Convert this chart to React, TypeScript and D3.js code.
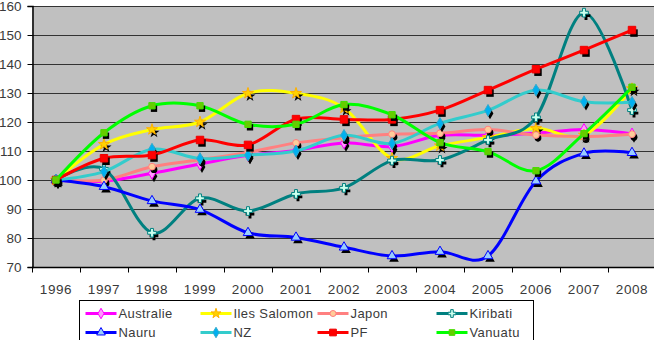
import React, { useRef, useEffect } from 'react';
import * as d3 from 'd3';

// Index values (1996 = 100) per territory
const years = ['1996', '1997', '1998', '1999', '2000', '2001', '2002', '2003', '2004', '2005', '2006', '2007', '2008'];

const australie = [100, 99.6, 102.3, 105.5, 108.5, 110.2, 112.8, 111.5, 115.4, 115.4, 116.1, 117.4, 115.9];
const ilesSalomon = [100, 112.3, 117.4, 120, 129.9, 129.9, 124.8, 107.5, 111.8, 114.7, 117.8, 115.5, 131.5];
const japon = [100, 100, 104.6, 107, 109.5, 112.8, 114.6, 115.8, 116.1, 117.4, 115.5, 115, 115.8];
const kiribati = [100, 103.8, 81.8, 93.7, 89.3, 95.2, 97.3, 106.7, 106.9, 113.8, 121.6, 157.7, 124.1];
const nauru = [100, 97.7, 92.8, 89.8, 81.8, 80.2, 76.8, 73.8, 75.3, 73.8, 99.6, 109.2, 109.4];
const nz = [100, 102.9, 110.6, 107.4, 108.6, 110, 115.4, 112.6, 119.5, 124, 131, 127, 126.8];
const pf = [100, 107.5, 108.6, 113.8, 112.1, 121, 120.9, 120.9, 124.1, 131, 138.2, 144.8, 151.7];
const vanuatu = [100, 116.3, 125.6, 125.6, 119.2, 119.2, 126, 122.5, 112.9, 109.8, 103.2, 116, 132];

const yTicks = [70, 80, 90, 100, 110, 120, 130, 140, 150, 160];

type Series = {
  name: string;
  values: number[];
  line: string;
  fill: string;
  stroke: string;
  symbol: d3.SymbolType;
  size: number;
};

const series: Series[] = [
  { name: 'Australie', values: australie, line: '#ff00ff', fill: '#ff99ff', stroke: '#ff00ff', symbol: d3.symbolDiamond, size: 40 },
  { name: 'Iles Salomon', values: ilesSalomon, line: '#ffff00', fill: '#ffd200', stroke: '#ffb000', symbol: d3.symbolStar, size: 38 },
  { name: 'Japon', values: japon, line: '#ff8080', fill: '#ffcc99', stroke: '#ff8080', symbol: d3.symbolCircle, size: 36 },
  { name: 'Kiribati', values: kiribati, line: '#008080', fill: '#ccffee', stroke: '#008080', symbol: d3.symbolCross, size: 42 },
  { name: 'Nauru', values: nauru, line: '#0000ff', fill: '#99ccff', stroke: '#0000ff', symbol: d3.symbolTriangle, size: 40 },
  { name: 'NZ', values: nz, line: '#33cccc', fill: '#00b0f0', stroke: '#33aacc', symbol: d3.symbolDiamond, size: 40 },
  { name: 'PF', values: pf, line: '#ff0000', fill: '#ff0000', stroke: '#ee0000', symbol: d3.symbolSquare, size: 56 },
  { name: 'Vanuatu', values: vanuatu, line: '#00ff00', fill: '#66cc00', stroke: '#44dd00', symbol: d3.symbolSquare, size: 40 },
];

const W = 654;
const H = 340;
const FONT = "Arial, 'Liberation Sans', sans-serif";
const TEXT = '#3a3a3a';

export default function App() {
  const svgRef = useRef<SVGSVGElement>(null);

  useEffect(() => {
    if (!svgRef.current) return;
    const svg = d3.select(svgRef.current);
    svg.selectAll('*').remove();

    const plot = { left: 32, right: 656, top: 6, bottom: 267 };

    const x = d3.scaleBand<string>().domain(years).range([plot.left, plot.right]).padding(0);
    const y = d3.scaleLinear().domain([70, 160]).range([plot.bottom, plot.top]);
    const cx = (i: number) => (x(years[i]) ?? 0) + x.bandwidth() / 2;

    svg.append('rect').attr('width', W).attr('height', H).attr('fill', '#fff');

    // plot background
    svg.append('rect')
      .attr('x', plot.left).attr('y', plot.top)
      .attr('width', plot.right - plot.left).attr('height', plot.bottom - plot.top)
      .attr('fill', '#c0c0c0');

    // horizontal gridlines
    svg.append('g')
      .selectAll('line')
      .data(yTicks.filter(t => t > 70))
      .join('line')
      .attr('x1', plot.left).attr('x2', plot.right)
      .attr('y1', d => Math.round(y(d)) + 0.5).attr('y2', d => Math.round(y(d)) + 0.5)
      .attr('stroke', '#333').attr('stroke-width', 1);

    // y axis
    const yAxis = svg.append('g')
      .attr('transform', `translate(${plot.left + 0.5},0)`)
      .call(d3.axisLeft(y).tickValues(yTicks).tickSize(5).tickPadding(6).tickFormat(d3.format('d')));
    yAxis.select('.domain').attr('stroke', '#000').attr('stroke-width', 1.5);
    yAxis.selectAll('.tick line').attr('stroke', '#000');
    yAxis.selectAll('.tick text')
      .attr('font-family', FONT).attr('font-size', 13.5).attr('fill', TEXT);

    // x axis with ticks between categories
    const xAxis = svg.append('g').attr('transform', `translate(0,${plot.bottom + 0.5})`);
    xAxis.append('line')
      .attr('x1', plot.left).attr('x2', plot.right)
      .attr('stroke', '#000').attr('stroke-width', 1.5);
    xAxis.selectAll('line.tk')
      .data(years)
      .join('line')
      .attr('class', 'tk')
      .attr('x1', d => Math.round(x(d) ?? 0) + 0.5).attr('x2', d => Math.round(x(d) ?? 0) + 0.5)
      .attr('y1', 0).attr('y2', 5)
      .attr('stroke', '#000');
    xAxis.selectAll('text')
      .data(years)
      .join('text')
      .attr('x', (_, i) => cx(i))
      .attr('y', 26)
      .attr('text-anchor', 'middle')
      .attr('font-family', FONT).attr('font-size', 13.5).attr('letter-spacing', 0.6)
      .attr('fill', TEXT)
      .text(d => d);

    const line = d3.line<number>()
      .x((_, i) => cx(i))
      .y(d => y(d))
      .curve(d3.curveCatmullRom.alpha(0));

    const sym = (s: Series, k = 1) => d3.symbol().type(s.symbol).size(s.size * k)() ?? '';

    series.forEach(s => {
      const g = svg.append('g');
      g.append('path')
        .attr('d', line(s.values))
        .attr('fill', 'none')
        .attr('stroke', s.line)
        .attr('stroke-width', 3)
        .attr('stroke-linejoin', 'round');

      // marker shadows
      g.selectAll('path.shadow')
        .data(s.values)
        .join('path')
        .attr('class', 'shadow')
        .attr('d', sym(s))
        .attr('transform', (d, i) => `translate(${cx(i) + 2},${y(d) + 3})`)
        .attr('fill', '#000');

      g.selectAll('path.mark')
        .data(s.values)
        .join('path')
        .attr('class', 'mark')
        .attr('d', sym(s))
        .attr('transform', (d, i) => `translate(${cx(i)},${y(d)})`)
        .attr('fill', s.fill)
        .attr('stroke', s.stroke)
        .attr('stroke-width', 1);
    });

    // legend
    const legend = svg.append('g').attr('transform', 'translate(79.5,300.5)');
    legend.append('rect')
      .attr('width', 454).attr('height', 45)
      .attr('fill', '#fff').attr('stroke', '#000');

    const colX = [6, 121, 238, 357];
    const rowY = [13, 32];
    series.forEach((s, i) => {
      const lx = colX[i % 4];
      const ly = rowY[Math.floor(i / 4)];
      const item = legend.append('g').attr('transform', `translate(${lx},${ly})`);
      item.append('line')
        .attr('x1', 0).attr('x2', 31)
        .attr('stroke', s.line).attr('stroke-width', 3);
      item.append('path')
        .attr('d', sym(s, 0.8))
        .attr('transform', 'translate(15.5,0)')
        .attr('fill', s.fill).attr('stroke', s.stroke);
      item.append('text')
        .attr('x', 33).attr('y', 4.5)
        .attr('font-family', FONT).attr('font-size', 13).attr('letter-spacing', 0.4)
        .attr('fill', TEXT)
        .text(s.name);
    });
  }, []);

  return (
    <svg
      ref={svgRef}
      width={W}
      height={H}
      style={{ position: 'absolute', left: 0, top: 0, overflow: 'hidden' }}
    />
  );
}
